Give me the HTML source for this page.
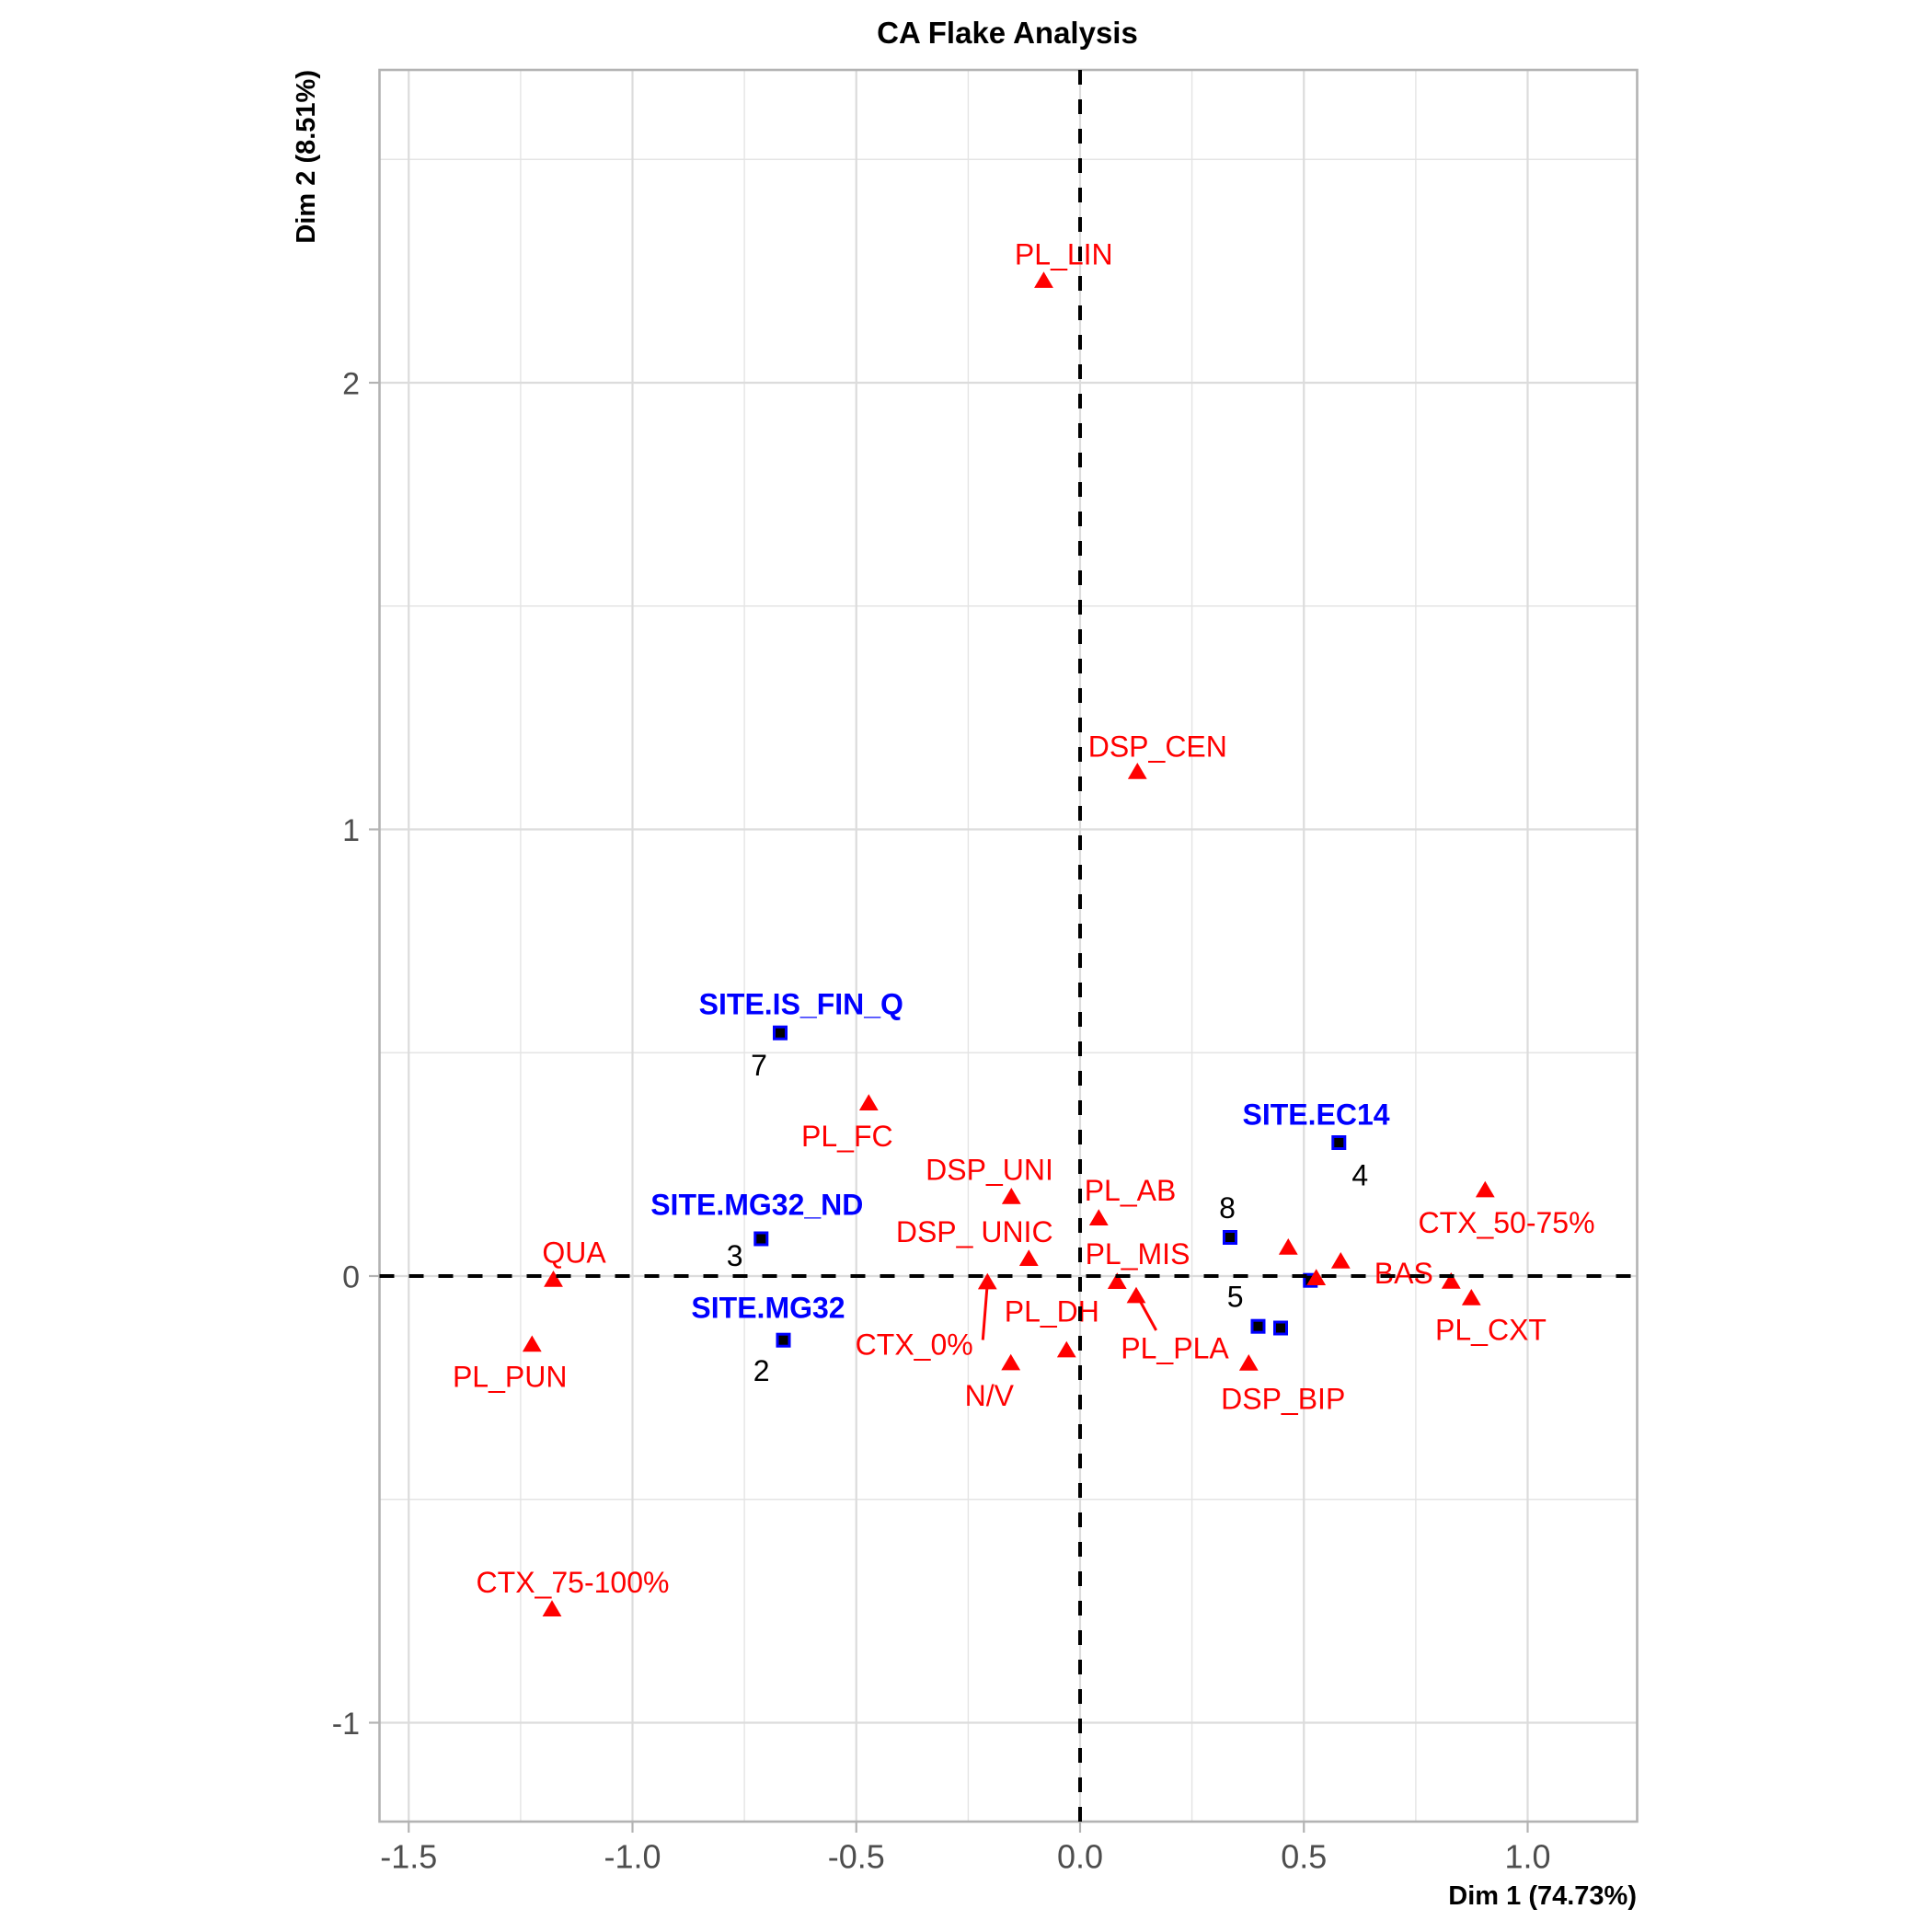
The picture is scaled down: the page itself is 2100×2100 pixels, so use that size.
<!DOCTYPE html>
<html><head><meta charset="utf-8"><style>
html,body{margin:0;padding:0;background:#fff;}
svg{display:block;font-family:"Liberation Sans",Arial,sans-serif;}
</style></head><body>
<svg width="2100" height="2100" viewBox="0 0 2100 2100" xmlns="http://www.w3.org/2000/svg">
<defs>
<path id="t" d="M0,-9 L10.4,8.7 L-10.4,8.7Z" fill="#ff0000"/>
<rect id="s" x="-6.5" y="-6.5" width="13" height="13" fill="#000" stroke="#0000ff" stroke-width="3"/>
</defs>
<rect width="2100" height="2100" fill="#fff"/>
<!-- minor grid -->
<g stroke="#e4e4e4" stroke-width="1.4">
<line x1="565.9" y1="76" x2="565.9" y2="1980"/>
<line x1="809.1" y1="76" x2="809.1" y2="1980"/>
<line x1="1052.4" y1="76" x2="1052.4" y2="1980"/>
<line x1="1295.6" y1="76" x2="1295.6" y2="1980"/>
<line x1="1538.9" y1="76" x2="1538.9" y2="1980"/>
<line x1="412.5" y1="173.25" x2="1779.5" y2="173.25"/>
<line x1="412.5" y1="658.75" x2="1779.5" y2="658.75"/>
<line x1="412.5" y1="1144.25" x2="1779.5" y2="1144.25"/>
<line x1="412.5" y1="1629.75" x2="1779.5" y2="1629.75"/>
</g>
<!-- major grid -->
<g stroke="#dcdcdc" stroke-width="2.2">
<line x1="444.25" y1="76" x2="444.25" y2="1980"/>
<line x1="687.5" y1="76" x2="687.5" y2="1980"/>
<line x1="930.75" y1="76" x2="930.75" y2="1980"/>
<line x1="1174" y1="76" x2="1174" y2="1980"/>
<line x1="1417.25" y1="76" x2="1417.25" y2="1980"/>
<line x1="1660.5" y1="76" x2="1660.5" y2="1980"/>
<line x1="412.5" y1="416" x2="1779.5" y2="416"/>
<line x1="412.5" y1="901.5" x2="1779.5" y2="901.5"/>
<line x1="412.5" y1="1387" x2="1779.5" y2="1387"/>
<line x1="412.5" y1="1872.5" x2="1779.5" y2="1872.5"/>
</g>
<!-- panel border -->
<rect x="412.5" y="76" width="1367" height="1904" fill="none" stroke="#b3b3b3" stroke-width="2.6"/>
<!-- ticks -->
<g stroke="#b3b3b3" stroke-width="2.2">
<line x1="444.25" y1="1981" x2="444.25" y2="1992"/>
<line x1="687.5" y1="1981" x2="687.5" y2="1992"/>
<line x1="930.75" y1="1981" x2="930.75" y2="1992"/>
<line x1="1174" y1="1981" x2="1174" y2="1992"/>
<line x1="1417.25" y1="1981" x2="1417.25" y2="1992"/>
<line x1="1660.5" y1="1981" x2="1660.5" y2="1992"/>
<line x1="401" y1="416" x2="412" y2="416"/>
<line x1="401" y1="901.5" x2="412" y2="901.5"/>
<line x1="401" y1="1387" x2="412" y2="1387"/>
<line x1="401" y1="1872.5" x2="412" y2="1872.5"/>
</g>
<!-- tick labels -->
<g fill="#4d4d4d" font-size="36" text-anchor="middle">
<text x="444.25" y="2030.5">-1.5</text>
<text x="687.5" y="2030.5">-1.0</text>
<text x="930.75" y="2030.5">-0.5</text>
<text x="1174" y="2030.5">0.0</text>
<text x="1417.25" y="2030.5">0.5</text>
<text x="1660.5" y="2030.5">1.0</text>
</g>
<g fill="#4d4d4d" font-size="34" text-anchor="end">
<text x="391" y="428.5">2</text>
<text x="391" y="914">1</text>
<text x="391" y="1399.5">0</text>
<text x="391" y="1885">-1</text>
</g>
<!-- titles -->
<text x="1095" y="47" font-size="33" font-weight="bold" text-anchor="middle" fill="#000">CA Flake Analysis</text>
<text x="1779" y="2070" font-size="29" font-weight="bold" text-anchor="end" fill="#000">Dim 1 (74.73%)</text>
<text transform="translate(342,76) rotate(-90)" font-size="29" font-weight="bold" text-anchor="end" fill="#000">Dim 2 (8.51%)</text>

<!-- row points (squares) -->
<use href="#s" x="848" y="1122.7"/>
<use href="#s" x="827.3" y="1346.5"/>
<use href="#s" x="851.5" y="1456.7"/>
<use href="#s" x="1455.3" y="1242"/>
<use href="#s" x="1337" y="1345"/>
<use href="#s" x="1367.5" y="1441.7"/>
<use href="#s" x="1392" y="1443.5"/>
<use href="#s" x="1424.3" y="1391.7"/>

<!-- row labels -->
<g fill="#0000ff" font-size="32" font-weight="bold" text-anchor="middle">
<text x="870.8" y="1102.7">SITE.IS_FIN_Q</text>
<text x="822.8" y="1320.7">SITE.MG32_ND</text>
<text x="835" y="1432.7">SITE.MG32</text>
<text x="1430.5" y="1222.7">SITE.EC14</text>
</g>
<g fill="#000" font-size="32" text-anchor="middle">
<text x="825" y="1169">7</text>
<text x="798.7" y="1376">3</text>
<text x="827.7" y="1501">2</text>
<text x="1478.3" y="1288.3">4</text>
<text x="1334" y="1324">8</text>
<text x="1342.7" y="1420.7">5</text>
</g>

<!-- column points (triangles) -->
<use href="#t" x="1134.5" y="304.2"/>
<use href="#t" x="1236.3" y="838"/>
<use href="#t" x="944.3" y="1198.3"/>
<use href="#t" x="1099.3" y="1300"/>
<use href="#t" x="1194.3" y="1323.3"/>
<use href="#t" x="1118.3" y="1367.3"/>
<use href="#t" x="601.5" y="1390"/>
<use href="#t" x="578.3" y="1460.5"/>
<use href="#t" x="1073.3" y="1392.7"/>
<use href="#t" x="1098.7" y="1480.7"/>
<use href="#t" x="1159.3" y="1466.7"/>
<use href="#t" x="1214.3" y="1392.3"/>
<use href="#t" x="1235" y="1407.7"/>
<use href="#t" x="1357.3" y="1481"/>
<use href="#t" x="1400.3" y="1355"/>
<use href="#t" x="1430.7" y="1388.3"/>
<use href="#t" x="1457.3" y="1370"/>
<use href="#t" x="1577.3" y="1392"/>
<use href="#t" x="1599.3" y="1410"/>
<use href="#t" x="1614.3" y="1292.7"/>
<use href="#t" x="600" y="1748.3"/>

<!-- repel segments -->
<g stroke="#ff0000" stroke-width="3">
<line x1="1068.3" y1="1456.5" x2="1073" y2="1398"/>
<line x1="1256.7" y1="1446" x2="1238" y2="1412"/>
</g>

<!-- column labels -->
<g fill="#ff0000" font-size="32" text-anchor="middle">
<text x="1156.3" y="287.3">PL_LIN</text>
<text x="1258.3" y="822.3">DSP_CEN</text>
<text x="920.8" y="1246">PL_FC</text>
<text x="1075.5" y="1282.5">DSP_UNI</text>
<text x="1059.2" y="1350">DSP_ UNIC</text>
<text x="1228.5" y="1305">PL_AB</text>
<text x="1236.5" y="1374">PL_MIS</text>
<text x="624" y="1372.7">QUA</text>
<text x="554.2" y="1507.7">PL_PUN</text>
<text x="993.7" y="1472.7">CTX_0%</text>
<text x="1143.3" y="1436.7">PL_DH</text>
<text x="1075.3" y="1528">N/V</text>
<text x="1277" y="1476.7">PL_PLA</text>
<text x="1394.7" y="1531.7">DSP_BIP</text>
<text x="1525.8" y="1395">BAS</text>
<text x="1637.5" y="1340">CTX_50-75%</text>
<text x="1620.5" y="1456.7">PL_CXT</text>
<text x="622.5" y="1731">CTX_75-100%</text>
</g>

<!-- dashed axes (drawn on top) -->
<line x1="412.5" y1="1387" x2="1779.5" y2="1387" stroke="#000" stroke-width="4" stroke-dasharray="16 16"/>
<line x1="1174" y1="1980" x2="1174" y2="76" stroke="#000" stroke-width="4" stroke-dasharray="16 16"/>
</svg>
</body></html>
